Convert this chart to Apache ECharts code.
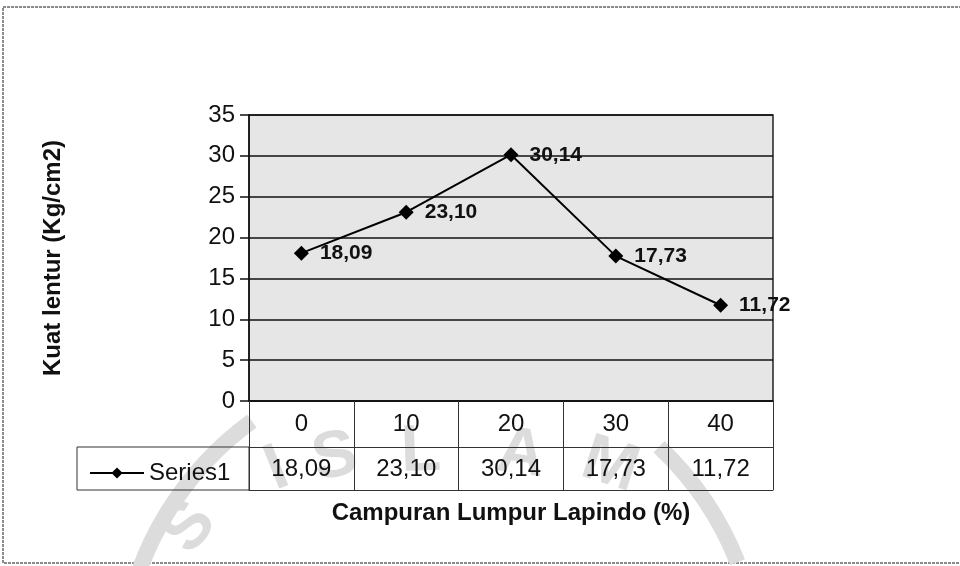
<!DOCTYPE html>
<html>
<head>
<meta charset="utf-8">
<script src="https://cdn.jsdelivr.net/npm/echarts@6/dist/echarts.min.js"></script>
<style>
html,body{margin:0;padding:0;background:#fff;}
#chart{width:960px;height:566px;}
</style>
</head>
<body>
<div id="chart"></div>
<script>
// ---- data ----
const categories = ['0', '10', '20', '30', '40'];
const seriesName = 'Series1';
const values = [18.09, 23.10, 30.14, 17.73, 11.72];
const yMin = 0, yMax = 35, yInterval = 5;
const xTitle = 'Campuran Lumpur Lapindo (%)';
const yTitle = 'Kuat lentur (Kg/cm2)';

// ---- layout ----
const FONT = '"Liberation Sans", Arial, sans-serif';
const GRID = { left: 249, top: 115, width: 524, height: 286 };
const ROW1 = 46, ROW2 = 43;
const fmt = v => v.toFixed(2).replace('.', ',');

const chart = echarts.init(document.getElementById('chart'), null, { renderer: 'canvas' });
const gridBottomY = GRID.top + GRID.height;

const wm = '#dcdcdc';
function wmLetter(t, x, y, rot) {
  return { type: 'text', z: -5, x: x, y: y, rotation: rot * Math.PI / 180, silent: true,
    style: { text: t, fill: wm, font: 'bold 66px ' + FONT, align: 'center', verticalAlign: 'middle' } };
}

chart.setOption({
  animation: false,
  backgroundColor: '#fff',
  textStyle: { fontFamily: FONT, color: '#111' },
  grid: {
    left: GRID.left, top: GRID.top, width: GRID.width, height: GRID.height,
    show: true, backgroundColor: '#e6e6e6', borderColor: '#222', borderWidth: 1.5
  },
  legend: {
    data: [seriesName], left: 84, top: 456, itemWidth: 54, itemHeight: 14, itemGap: 6,
    textStyle: { fontSize: 24, color: '#111', fontFamily: FONT }
  },
  xAxis: [
    {
      type: 'category', data: categories, boundaryGap: true,
      axisLine: { show: true, lineStyle: { color: '#111', width: 1.5 } },
      axisTick: { show: true, length: ROW1, lineStyle: { color: '#333', width: 1 } },
      axisLabel: { fontSize: 24, color: '#111', margin: 11, fontFamily: FONT },
      splitLine: { show: false },
      name: xTitle, nameLocation: 'middle', nameGap: 100,
      nameTextStyle: { fontSize: 24, fontWeight: 'bold', color: '#111', fontFamily: FONT }
    },
    {
      type: 'category', data: categories, boundaryGap: true, position: 'bottom', offset: ROW1,
      axisLine: { show: true, lineStyle: { color: '#333', width: 1 } },
      axisTick: { show: true, length: ROW2, lineStyle: { color: '#333', width: 1 } },
      axisLabel: { fontSize: 24, color: '#111', margin: 10, fontFamily: FONT,
        formatter: (v, i) => fmt(values[i]) },
      splitLine: { show: false }
    },
    {
      type: 'category', data: categories, boundaryGap: true, position: 'bottom', offset: ROW1 + ROW2,
      axisLine: { show: true, lineStyle: { color: '#333', width: 1 } },
      axisTick: { show: false }, axisLabel: { show: false }, splitLine: { show: false }
    }
  ],
  yAxis: {
    type: 'value', min: yMin, max: yMax, interval: yInterval,
    axisLine: { show: true, lineStyle: { color: '#111', width: 1.5 } },
    axisTick: { show: true, length: 9, lineStyle: { color: '#111', width: 1.5 } },
    axisLabel: { fontSize: 24, color: '#111', margin: 14, fontFamily: FONT },
    splitLine: { show: true, lineStyle: { color: '#111', width: 1.5 } },
    name: yTitle, nameLocation: 'middle', nameGap: 184,
    nameTextStyle: { fontSize: 24, fontWeight: 'bold', color: '#111', fontFamily: FONT }
  },
  series: [{
    name: seriesName, type: 'line', xAxisIndex: 0, data: values,
    symbol: 'diamond', symbolSize: 15,
    itemStyle: { color: '#000' },
    lineStyle: { color: '#000', width: 2 },
    label: { show: true, position: 'right', distance: 11, fontSize: 21, fontWeight: 'bold',
      color: '#111', fontFamily: FONT, formatter: p => fmt(p.value) }
  }],
  graphic: [
    // outer frame
    { type: 'rect', z: -10, silent: true, shape: { x: 3, y: 7, width: 962, height: 556 },
      style: { fill: 'none', stroke: '#666', lineWidth: 1.5, lineDash: [3, 1] } },
    // faint scan watermark
    { type: 'arc', z: -5, silent: true, shape: { cx: 440, cy: 680, r: 320, startAngle: Math.PI * 1.05, endAngle: Math.PI * 1.3 },
      style: { fill: 'none', stroke: wm, lineWidth: 16 } },
    { type: 'arc', z: -5, silent: true, shape: { cx: 440, cy: 680, r: 320, startAngle: Math.PI * 1.74, endAngle: Math.PI * 1.88 },
      style: { fill: 'none', stroke: wm, lineWidth: 16 } },
    wmLetter('I', 277, 470, 22), wmLetter('S', 335, 458, 12), wmLetter('L', 421, 452, 2),
    wmLetter('A', 521, 455, -8), wmLetter('M', 610, 466, -18), wmLetter('S', 190, 528, 50),
    // legend cell of the data table
    { type: 'rect', z: 5, silent: true,
      shape: { x: 77, y: gridBottomY + ROW1, width: GRID.left - 77, height: ROW2 },
      style: { fill: 'none', stroke: '#333', lineWidth: 1 } }
  ]
});
</script>
</body>
</html>
